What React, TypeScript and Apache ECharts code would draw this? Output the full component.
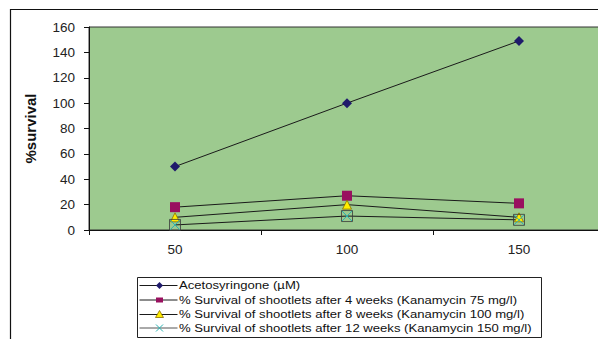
import React, { useEffect, useRef } from "react";
import * as echarts from "echarts";

const categories = ["50", "100", "150"];
const acetosyringone = [50, 100, 149];
const week4 = [18, 27, 21];
const week8 = [10, 20, 10];
const week12 = [4, 11, 8];
const yTicks = { min: 0, max: 160, interval: 20 };

const seriesNames = [
  "Acetosyringone (µM)",
  "% Survival of shootlets after 4 weeks (Kanamycin 75 mg/l)",
  "% Survival of shootlets after 8 weeks (Kanamycin 100 mg/l)",
  "% Survival of shootlets after 12 weeks (Kanamycin 150 mg/l)",
];

const colors = {
  diamond: "#1f1a6b",
  square: "#99105f",
  triangle: "#ffee00",
  triangleEdge: "#8a6d00",
  cross: "#2ab3b3",
  line: "#1a1a1a",
};

const crossPath = "path://M0,0L10,10M10,0L0,10";

// Legend keys drawn as graphic elements (line + marker + stretched label)
function legendGraphics() {
  const left = 137;
  const top = 277.5;
  const rows = [285.5, 300, 314.5, 328];
  const lx0 = 139.5;
  const lx1 = 177.5;
  const mx = 159.5;
  const tx = 179;
  const items: any[] = [
    {
      type: "rect",
      shape: { x: left + 0.5, y: top, width: 404, height: 60 },
      style: { fill: "#fff", stroke: "#222", lineWidth: 1 },
    },
  ];
  const markers = [
    {
      type: "polygon",
      shape: { points: [[mx, rows[0] - 3.5], [mx + 3.5, rows[0]], [mx, rows[0] + 3.5], [mx - 3.5, rows[0]]] },
      style: { fill: colors.diamond },
    },
    {
      type: "rect",
      shape: { x: mx - 3.5, y: rows[1] - 2.5, width: 7, height: 5 },
      style: { fill: colors.square },
    },
    {
      type: "polygon",
      shape: { points: [[mx, rows[2] - 4], [mx + 4, rows[2] + 3], [mx - 4, rows[2] + 3]] },
      style: { fill: colors.triangle, stroke: colors.triangleEdge, lineWidth: 0.8 },
    },
    {
      type: "group",
      children: [
        { type: "line", shape: { x1: mx - 3.5, y1: rows[3] - 3.5, x2: mx + 3.5, y2: rows[3] + 3.5 }, style: { stroke: colors.cross, lineWidth: 1 } },
        { type: "line", shape: { x1: mx + 3.5, y1: rows[3] - 3.5, x2: mx - 3.5, y2: rows[3] + 3.5 }, style: { stroke: colors.cross, lineWidth: 1 } },
      ],
    },
  ];
  seriesNames.forEach((name, i) => {
    items.push({
      type: "line",
      shape: { x1: lx0, y1: rows[i], x2: lx1, y2: rows[i] },
      style: { stroke: i === 3 ? "#555" : colors.line, lineWidth: 1 },
    });
    items.push(markers[i]);
    items.push({
      type: "text",
      x: tx,
      y: rows[i],
      scaleX: 1.14,
      style: {
        text: name,
        fontSize: 11.5,
        fontFamily: "Liberation Sans, Arial, sans-serif",
        fill: "#111",
        verticalAlign: "middle",
        align: "left",
      },
    });
  });
  return { type: "group", silent: true, z: 10, children: items };
}

export default function App() {
  const ref = useRef<HTMLDivElement>(null);

  useEffect(() => {
    if (!ref.current) return;
    const chart = echarts.init(ref.current, null, { renderer: "svg" });
    const lineStyle = { color: colors.line, width: 1 };
    chart.setOption({
      animation: false,
      textStyle: { fontFamily: "Liberation Sans, Arial, sans-serif" },
      graphic: [
        {
          type: "rect",
          silent: true,
          z: -10,
          shape: { x: 10.5, y: 9.5, width: 700, height: 400 },
          style: { fill: "none", stroke: "#111", lineWidth: 1.2 },
        },
        legendGraphics(),
      ],
      grid: {
        left: 89,
        top: 27,
        right: 1,
        bottom: 117,
        show: true,
        backgroundColor: "#9dca8f",
        borderColor: "#333",
        borderWidth: 1,
      },
      xAxis: {
        type: "category",
        data: categories,
        boundaryGap: true,
        axisLine: { lineStyle: { color: "#111", width: 1 } },
        axisTick: { show: true, length: 5, lineStyle: { color: "#111" } },
        axisLabel: { fontSize: 13.5, color: "#222", margin: 12 },
      },
      yAxis: {
        type: "value",
        min: yTicks.min,
        max: yTicks.max,
        interval: yTicks.interval,
        name: "%survival",
        nameLocation: "middle",
        nameRotate: 90,
        nameGap: 51,
        nameTextStyle: { fontSize: 15, fontWeight: "bold", color: "#111" },
        axisLine: { show: true, lineStyle: { color: "#111", width: 1 } },
        axisTick: { show: true, length: 5, lineStyle: { color: "#111" } },
        axisLabel: { fontSize: 13.5, color: "#222", margin: 14 },
        splitLine: { show: false },
      },
      series: [
        {
          name: seriesNames[0],
          type: "line",
          data: acetosyringone,
          symbol: "diamond",
          symbolSize: 10,
          lineStyle,
          itemStyle: { color: colors.diamond },
        },
        {
          name: seriesNames[1],
          type: "line",
          data: week4,
          symbol: "rect",
          symbolSize: 10,
          lineStyle,
          itemStyle: { color: colors.square },
        },
        {
          name: seriesNames[2],
          type: "line",
          data: week8,
          symbol: "triangle",
          symbolSize: 9,
          lineStyle,
          itemStyle: { color: colors.triangle, borderColor: colors.triangleEdge, borderWidth: 0.8 },
        },
        {
          name: seriesNames[3],
          type: "line",
          data: week12,
          symbol: crossPath,
          symbolSize: 10,
          lineStyle,
          itemStyle: { color: "none", borderColor: colors.cross, borderWidth: 1 },
          z: 3,
        },
        {
          name: "box",
          type: "scatter",
          data: week12,
          symbol: "rect",
          symbolSize: 11,
          itemStyle: { color: "none", borderColor: "#3a3a3a", borderWidth: 1 },
          z: 4,
          silent: true,
        },
      ],
    });
    return () => chart.dispose();
  }, []);

  return <div ref={ref} style={{ width: 606, height: 347, margin: -8 }} />;
}
